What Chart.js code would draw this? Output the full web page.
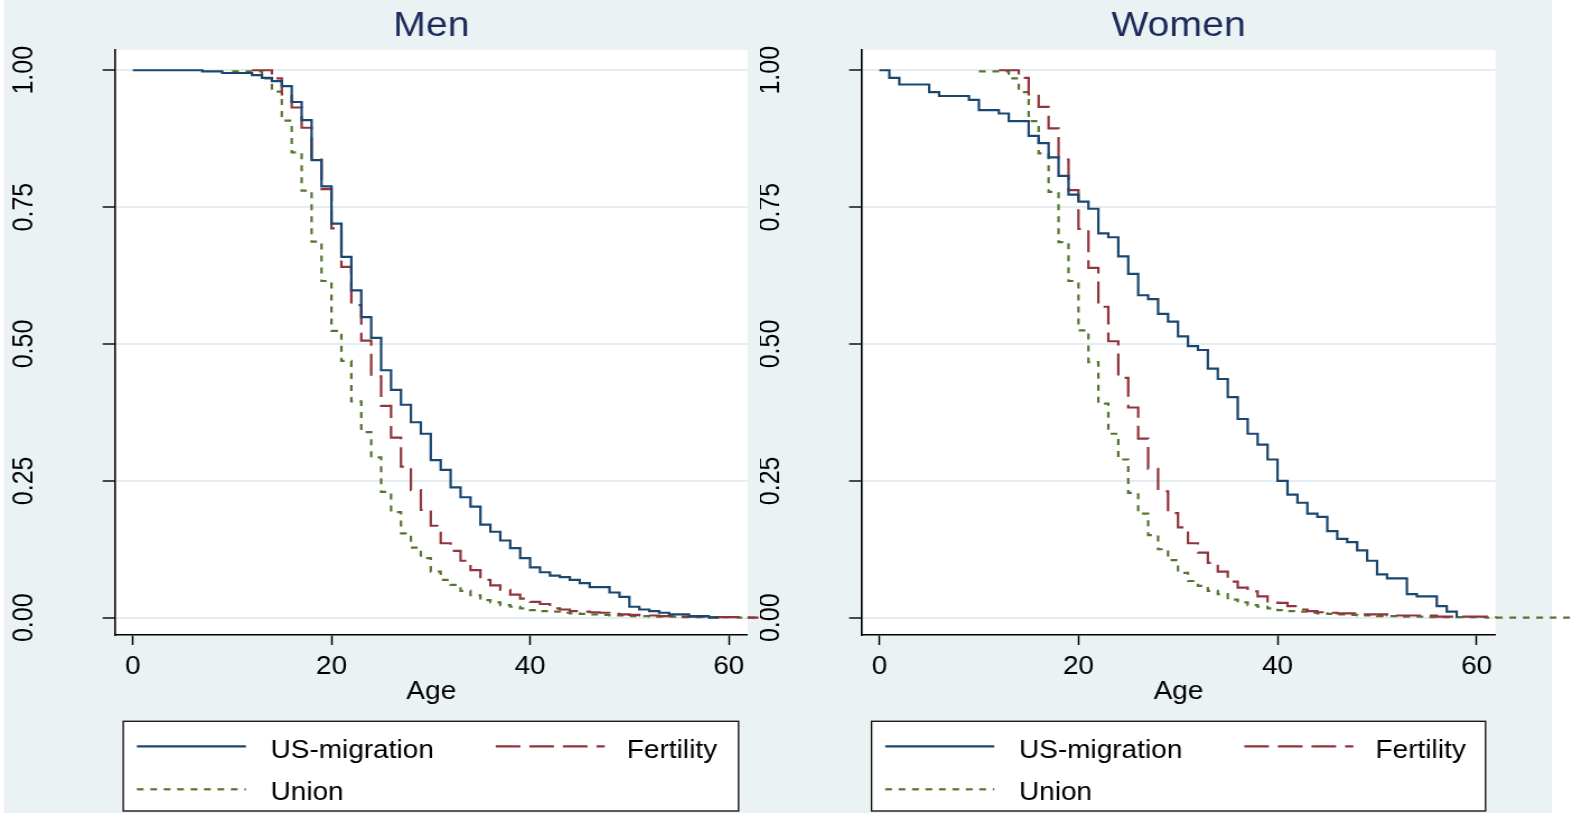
<!DOCTYPE html>
<html>
<head>
<meta charset="utf-8">
<script src="https://cdn.jsdelivr.net/npm/chart.js@4.4.1/dist/chart.umd.min.js"></script>
<style>
  html, body { margin: 0; padding: 0; background: #fff; }
  body { width: 1572px; height: 813px; position: relative; overflow: hidden; }
  #bg { position: absolute; left: 4px; top: 0; width: 1548px; height: 813px; background: #eaf2f3; }
  canvas { position: absolute; top: 0; }
</style>
</head>
<body>
<div id="bg"></div>
<!-- the original export is stretched ~1.12x horizontally, so the canvases are too -->
<canvas id="men" width="679" height="813" style="left:0px;width:760.48px;height:813px"></canvas>
<canvas id="women" width="725" height="813" style="left:760.48px;width:812px;height:813px"></canvas>
<script>
const panelTitles = ['Men', 'Women'];
const seriesNames = ['US-migration', 'Fertility', 'Union'];
const ageTicks = [0, 20, 40, 60];
const survTicks = [0, 0.25, 0.5, 0.75, 1];
const survTickLabels = ['0.00', '0.25', '0.50', '0.75', '1.00'];

const ages = [0, 1, 2, 3, 4, 5, 6, 7, 8, 9,
  10, 11, 12, 13, 14, 15, 16, 17, 18, 19,
  20, 21, 22, 23, 24, 25, 26, 27, 28, 29,
  30, 31, 32, 33, 34, 35, 36, 37, 38, 39,
  40, 41, 42, 43, 44, 45, 46, 47, 48, 49,
  50, 51, 52, 53, 54, 55, 56, 57, 58, 59,
  60, 61, 62, 63, 64, 65, 66, 67, 68, 69, 70];

// Kaplan-Meier survival, one value per age (null = not observed)
const menMigration = [1.000, 1.000, 1.000, 1.000, 1.000, 1.000, 1.000, 0.998, 0.998, 0.995,
  0.995, 0.995, 0.991, 0.986, 0.980, 0.971, 0.942, 0.909, 0.836, 0.788,
  0.720, 0.659, 0.598, 0.549, 0.511, 0.452, 0.416, 0.389, 0.357, 0.336,
  0.288, 0.270, 0.238, 0.220, 0.203, 0.170, 0.157, 0.141, 0.127, 0.109,
  0.092, 0.083, 0.077, 0.074, 0.069, 0.063, 0.056, 0.056, 0.046, 0.038,
  0.020, 0.015, 0.012, 0.009, 0.006, 0.006, 0.003, 0.003, 0.000, 0.000,
  null, null, null, null, null, null, null, null, null, null, null];
const menFertility = [null, null, null, null, null, null, null, null, null, null,
  null, null, 1.000, 1.000, 0.985, 0.956, 0.932, 0.895, 0.837, 0.783,
  0.711, 0.641, 0.571, 0.506, 0.441, 0.387, 0.329, 0.276, 0.233, 0.197,
  0.168, 0.136, 0.122, 0.104, 0.087, 0.069, 0.059, 0.051, 0.042, 0.035,
  0.029, 0.025, 0.017, 0.015, 0.012, 0.011, 0.010, 0.009, 0.007, 0.006,
  0.005, 0.004, 0.004, 0.003, 0.003, 0.002, 0.002, 0.002, 0.001, 0.001,
  0.001, 0.001, 0.000, 0.000, null, null, null, null, null, null, null];
const menUnion = [null, null, null, null, null, null, null, null, null, null,
  0.998, 0.998, 0.998, 0.985, 0.961, 0.908, 0.850, 0.780, 0.687, 0.615,
  0.524, 0.469, 0.395, 0.339, 0.293, 0.230, 0.193, 0.154, 0.128, 0.109,
  0.084, 0.069, 0.060, 0.049, 0.041, 0.032, 0.028, 0.023, 0.020, 0.017,
  0.014, 0.012, 0.011, 0.009, 0.008, 0.007, 0.006, 0.005, 0.004, 0.004,
  0.003, 0.003, 0.002, 0.002, 0.002, 0.001, 0.001, 0.001, 0.001, 0.001,
  0.001, 0.000, 0.000, 0.000, null, null, null, null, null, null, null];

const womenMigration = [1.000, 0.986, 0.974, 0.974, 0.974, 0.960, 0.953, 0.953, 0.953, 0.946,
  0.927, 0.927, 0.921, 0.907, 0.907, 0.880, 0.867, 0.841, 0.807, 0.773,
  0.760, 0.747, 0.702, 0.695, 0.660, 0.628, 0.589, 0.582, 0.555, 0.541,
  0.514, 0.496, 0.489, 0.455, 0.436, 0.403, 0.363, 0.336, 0.316, 0.289,
  0.250, 0.225, 0.210, 0.190, 0.184, 0.158, 0.144, 0.138, 0.123, 0.104,
  0.079, 0.072, 0.072, 0.043, 0.039, 0.039, 0.021, 0.011, 0.000, null,
  null, null, null, null, null, null, null, null, null, null, null];
const womenFertility = [null, null, null, null, null, null, null, null, null, null,
  null, null, 1.000, 1.000, 0.986, 0.956, 0.933, 0.894, 0.837, 0.781,
  0.710, 0.639, 0.568, 0.505, 0.438, 0.384, 0.327, 0.272, 0.231, 0.191,
  0.165, 0.136, 0.119, 0.100, 0.084, 0.066, 0.055, 0.048, 0.039, 0.030,
  0.027, 0.021, 0.015, 0.012, 0.010, 0.009, 0.008, 0.008, 0.006, 0.006,
  0.006, 0.004, 0.004, 0.004, 0.004, 0.004, 0.002, 0.002, 0.002, 0.002,
  0.002, 0.001, 0.001, null, null, null, null, null, null, null, null];
const womenUnion = [null, null, null, null, null, null, null, null, null, null,
  0.998, 0.998, 0.998, 0.985, 0.960, 0.907, 0.848, 0.778, 0.686, 0.615,
  0.525, 0.467, 0.391, 0.336, 0.289, 0.228, 0.190, 0.151, 0.125, 0.105,
  0.082, 0.067, 0.058, 0.049, 0.043, 0.033, 0.028, 0.023, 0.020, 0.017,
  0.014, 0.012, 0.011, 0.009, 0.008, 0.007, 0.006, 0.005, 0.004, 0.004,
  0.003, 0.003, 0.002, 0.002, 0.002, 0.001, 0.001, 0.001, 0.001, 0.001,
  0.001, 0.000, 0.000, 0.000, 0.000, 0.000, 0.000, 0.000, 0.000, 0.000, 0.000];

Chart.defaults.font.family = '"Liberation Sans", Arial, sans-serif';

const lineStyles = [
  { color: '#1a476f', dash: [] },
  { color: '#90353b', dash: [22, 8] },
  { color: '#55752f', dash: [6, 6] }
];

function toPoints(vals) {
  const pts = [];
  ages.forEach((a, i) => {
    if (vals[i] !== null) pts.push({ x: a, y: vals[i] });
  });
  return pts;
}

// white plot region
const plotFill = {
  id: 'plotFill',
  beforeDraw(chart) {
    const { ctx, chartArea: a } = chart;
    ctx.save();
    ctx.fillStyle = '#fff';
    ctx.fillRect(a.left, a.top, a.right - a.left, a.bottom - a.top);
    ctx.restore();
  }
};

// boxed two-column legend like the stata one
const boxLegend = {
  id: 'boxLegend',
  afterDraw(chart, args, opts) {
    const ctx = chart.ctx;
    const L = opts.left, T = 721.3, W = opts.width, H = 89.7;
    const slots = [
      { x: 12.2, tx: 131.6, y: 746.3, by: 758 },
      { x: 332.8, tx: 450, y: 746.3, by: 758 },
      { x: 12.2, tx: 131.6, y: 789.3, by: 800.3 }
    ];
    ctx.save();
    ctx.fillStyle = '#fff';
    ctx.fillRect(L, T, W, H);
    ctx.strokeStyle = '#1a1a1a';
    ctx.lineWidth = 1.4;
    ctx.strokeRect(L, T, W, H);
    chart.data.datasets.forEach((ds, i) => {
      const s = slots[i];
      ctx.beginPath();
      ctx.setLineDash(ds.borderDash || []);
      ctx.strokeStyle = ds.borderColor;
      ctx.lineWidth = ds.borderWidth;
      ctx.moveTo(L + s.x, s.y);
      ctx.lineTo(L + s.x + 97.4, s.y);
      ctx.stroke();
      ctx.setLineDash([]);
      ctx.fillStyle = '#000';
      ctx.font = '25px "Liberation Sans", Arial, sans-serif';
      ctx.textBaseline = 'alphabetic';
      ctx.textAlign = 'left';
      ctx.fillText(ds.label, L + s.tx, s.by);
    });
    ctx.restore();
  }
};

function makePanel(id, title, series, plotLeft, rightPad, legendLeft, legendWidth) {
  return new Chart(document.getElementById(id), {
    type: 'line',
    data: {
      datasets: series.map((vals, i) => ({
        label: seriesNames[i],
        data: toPoints(vals),
        borderColor: lineStyles[i].color,
        borderDash: lineStyles[i].dash,
        borderWidth: 2.2,
        stepped: true,
        pointRadius: 0,
        fill: false,
        clip: false
      }))
    },
    options: {
      responsive: false,
      animation: false,
      events: [],
      layout: { padding: { top: 0, left: 0, right: rightPad, bottom: 107.5 } },
      plugins: {
        legend: { display: false },
        tooltip: { enabled: false },
        title: {
          display: true, text: title, fullSize: false, color: '#1c2b5a',
          font: { size: 35, weight: 'normal' }, padding: { top: 5, bottom: 3 }
        },
        boxLegend: { left: legendLeft, width: legendWidth }
      },
      scales: {
        x: {
          type: 'linear',
          bounds: 'data',
          afterDataLimits: s => { s.min = -1.8; s.max = 61.9; },
          afterBuildTicks: s => { s.ticks = ageTicks.map(v => ({ value: v })); },
          afterFit: s => { s.height = 70.5; s.paddingLeft = 0; s.paddingRight = 0; },
          grid: { drawOnChartArea: false, tickLength: 10, tickColor: '#000', tickWidth: 1.5 },
          border: { display: true, color: '#000', width: 1.6 },
          ticks: { color: '#000', padding: 9.5, font: { size: 25, lineHeight: 1 }, maxRotation: 0, autoSkip: false },
          title: {
            display: true, text: 'Age', color: '#000',
            font: { size: 25, lineHeight: 1 }, padding: { top: 0, bottom: 1 }
          }
        },
        y: {
          type: 'linear',
          bounds: 'data',
          min: -0.0316,
          max: 1.037,
          afterBuildTicks: s => { s.ticks = survTicks.map(v => ({ value: v })); },
          afterFit: s => { s.width = plotLeft; s.paddingTop = 0; s.paddingBottom = 0; },
          grid: { color: '#e4eef0', lineWidth: 2, tickLength: 11, tickColor: '#000', tickWidth: 1.4 },
          border: { display: true, color: '#000', width: 1.6 },
          ticks: {
            color: '#000', padding: 45, minRotation: 90, maxRotation: 90, crossAlign: 'center',
            font: { size: 25 }, autoSkip: false,
            callback: (v, i) => survTickLabels[i]
          }
        }
      }
    },
    plugins: [plotFill, boxLegend]
  });
}

makePanel('men', panelTitles[0], [menMigration, menFertility, menUnion], 102.7, 11.1, 110.1, 549.7);
makePanel('women', panelTitles[1], [womenMigration, womenFertility, womenUnion], 90.6, 68.3, 99.6, 548.2);
</script>
</body>
</html>
